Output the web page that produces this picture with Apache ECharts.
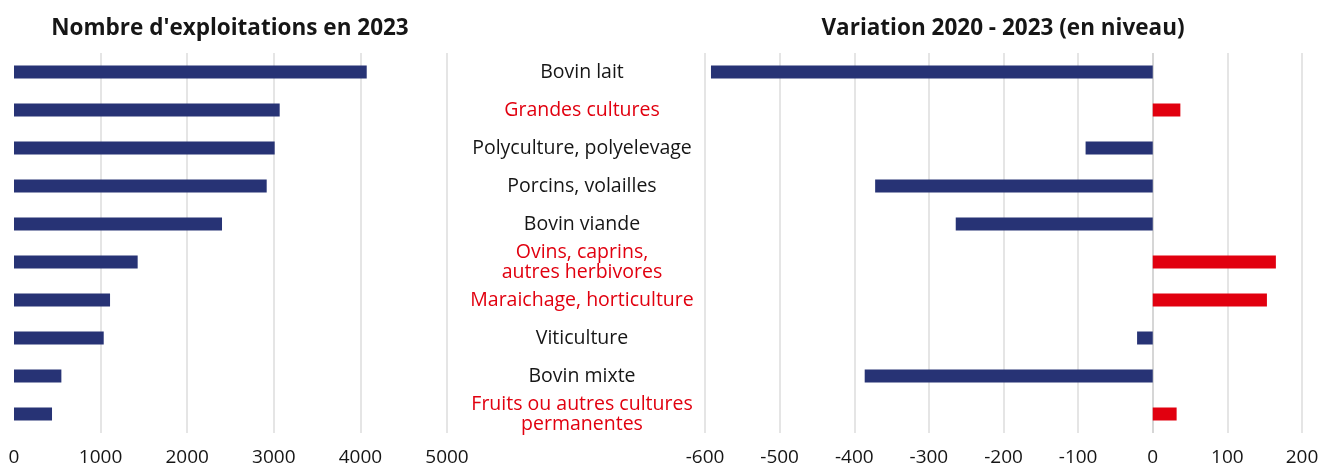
<!DOCTYPE html>
<html>
<head>
<meta charset="utf-8">
<script src="https://cdn.jsdelivr.net/npm/echarts@6/dist/echarts.min.js"></script>
<style>
  html, body { margin: 0; padding: 0; background: #fff; }
  #chart { width: 1325px; height: 468px; }
</style>
</head>
<body>
<div id="chart"></div>
<script>
// orientations technico-economiques
var categories = [
    'Bovin lait',
    'Grandes cultures',
    'Polyculture, polyelevage',
    'Porcins, volailles',
    'Bovin viande',
    'Ovins, caprins,\nautres herbivores',
    'Maraichage, horticulture',
    'Viticulture',
    'Bovin mixte',
    'Fruits ou autres cultures\npermanentes'
];
// nombre d'exploitations en 2023
var nombre2023 = [4073, 3068, 3010, 2918, 2402, 1428, 1109, 1036, 547, 439];
// variation 2020 - 2023 (en niveau)
var variation = [-592, 37, -90, -372, -264, 165, 153, -21, -386, 32];

// graduations des axes
var nombreTicks = { min: 0, max: 5000, interval: 1000 };
var variationTicks = { min: -600, max: 200, interval: 100 };

var BLEU = '#273375';
var ROUGE = '#E1000F';
var GRILLE = '#dcdcdc';
var TEXTE = '#161616';
var FONT = '"Open Sans", sans-serif';

var chart = echarts.init(document.getElementById('chart'));

// couleur des lignes de grille, la ligne du 0 a gauche est masquee
var gridLeftColors = [];
for (var v = nombreTicks.min; v <= nombreTicks.max; v += nombreTicks.interval) {
    gridLeftColors.push(v === 0 ? 'rgba(0,0,0,0)' : GRILLE);
}
var gridRightColors = [];
for (var w = variationTicks.min; w <= variationTicks.max; w += variationTicks.interval) {
    gridRightColors.push(w === 0 ? '#c9c9c9' : GRILLE);
}

function plainNumber(val) {
    return String(val);
}

var option = {
    backgroundColor: '#fff',
    animation: false,
    textStyle: { fontFamily: FONT },
    title: [
        {
            text: "Nombre d'exploitations en 2023",
            left: 225, top: 12, textAlign: 'center',
            textStyle: { fontFamily: FONT, fontSize: 22.5, fontWeight: 'bold', color: TEXTE }
        },
        {
            text: 'Variation 2020 - 2023 (en niveau)',
            left: 998, top: 12, textAlign: 'center',
            textStyle: { fontFamily: FONT, fontSize: 22.5, fontWeight: 'bold', color: TEXTE }
        }
    ],
    grid: [
        { left: 14, right: 878, top: 53, bottom: 35 },
        { left: 705, right: 23, top: 53, bottom: 35 }
    ],
    xAxis: [
        {
            gridIndex: 0, type: 'value',
            min: nombreTicks.min, max: nombreTicks.max, interval: nombreTicks.interval,
            axisLine: { show: false }, axisTick: { show: false },
            axisLabel: { fontSize: 19, color: TEXTE, margin: 15, fontFamily: FONT, formatter: plainNumber },
            splitLine: { lineStyle: { color: gridLeftColors, width: 1.5 } }
        },
        {
            gridIndex: 1, type: 'value',
            min: variationTicks.min, max: variationTicks.max, interval: variationTicks.interval,
            axisLine: { show: false }, axisTick: { show: false },
            axisLabel: { fontSize: 19, color: TEXTE, margin: 15, fontFamily: FONT, formatter: plainNumber },
            splitLine: { lineStyle: { color: gridRightColors, width: 1.5 } }
        }
    ],
    yAxis: [
        {
            gridIndex: 0, type: 'category', data: categories, inverse: true,
            axisLine: { show: false }, axisTick: { show: false },
            axisLabel: { show: false }
        },
        {
            gridIndex: 1, type: 'category', data: categories, inverse: true,
            axisLine: { show: false }, axisTick: { show: false },
            axisLabel: {
                align: 'center',
                margin: 123,
                fontSize: 19.5,
                lineHeight: 20,
                fontFamily: FONT,
                formatter: function (value, index) {
                    var style = variation[index] > 0 ? 'r' : 'n';
                    return value.split('\n').map(function (line) {
                        return '{' + style + '|' + line + '}';
                    }).join('\n');
                },
                rich: {
                    n: { color: TEXTE, fontSize: 19.5, lineHeight: 20, fontFamily: FONT },
                    r: { color: ROUGE, fontSize: 19.5, lineHeight: 20, fontFamily: FONT }
                }
            }
        }
    ],
    series: [
        {
            type: 'bar',
            xAxisIndex: 0, yAxisIndex: 0,
            data: nombre2023,
            barWidth: 13,
            itemStyle: { color: BLEU }
        },
        {
            type: 'bar',
            xAxisIndex: 1, yAxisIndex: 1,
            data: variation.map(function (val) {
                return { value: val, itemStyle: { color: val > 0 ? ROUGE : BLEU } };
            }),
            barWidth: 13
        }
    ]
};

chart.setOption(option);
</script>
</body>
</html>
